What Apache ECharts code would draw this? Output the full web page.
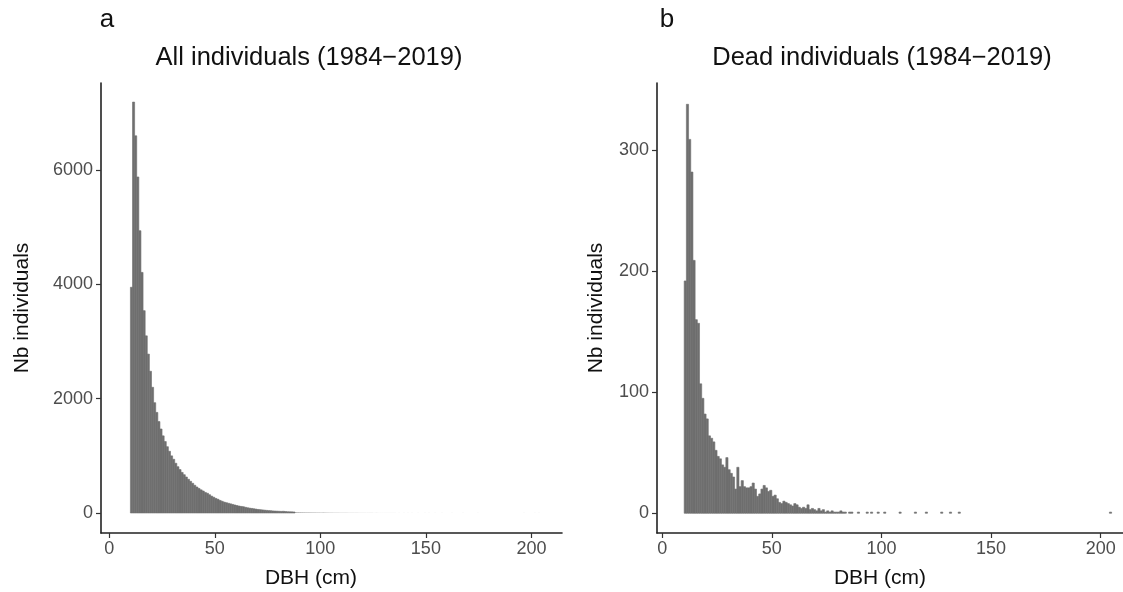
<!DOCTYPE html>
<html>
<head>
<meta charset="utf-8">
<script src="https://cdn.jsdelivr.net/npm/echarts@6.0.0/dist/echarts.min.js"></script>
<style>
  html, body { margin: 0; padding: 0; background: #fff; }
  #chart { width: 1123px; height: 592px; }
</style>
</head>
<body>
<div id="chart"></div>
<script>
// histogram counts, 1 cm DBH bins, first bin starts at 10 cm
var allStart = 10;
var allCounts = [
  3950, 7190, 6600, 5880, 4940, 4210, 3540, 3100, 2780, 2480,
  2200, 1930, 1760, 1600, 1470, 1350, 1250, 1160, 1080, 1000,
  940, 870, 810, 760, 710, 670, 630, 590, 555, 520,
  485, 455, 430, 405, 385, 360, 345, 320, 295, 275,
  255, 240, 220, 205, 190, 180, 170, 160, 150, 140,
  130, 122, 115, 110, 100, 92, 85, 80, 74, 68,
  62, 58, 54, 50, 46, 42, 40, 36, 34, 32,
  30, 28, 30, 26, 22, 21, 20, 18, 17, 16,
  15, 14, 13, 12, 12, 11, 10, 10, 9, 9,
  8, 10, 8, 7, 6, 6, 5, 5, 5, 4,
  4, 4, 4, 3, 3, 3, 3, 3, 2, 2,
  2, 2, 2, 2, 2, 1, 2, 1, 1, 1,
  1, 1, 1, 1, 1, 1, 0, 1, 0, 1,
  0, 1, 0, 1, 0, 0, 1, 0, 0, 1,
  0, 1, 0, 0, 1, 0, 0, 1, 0, 0,
  0, 0, 1, 0, 0, 0, 0, 1, 0, 0,
  0, 0, 0, 0, 1, 0, 0, 0, 0, 0,
  0, 0, 0, 0, 0, 0, 0, 0, 0, 0,
  0, 0, 0, 0, 0, 0, 1, 0, 0, 0,
  0, 1, 0, 1, 0
];

var deadStart = 10;
var deadCounts = [
  192, 338, 309, 282, 209, 160, 157, 107, 95, 82,
  78, 64, 62, 59, 52, 47, 45, 40, 38, 46,
  36, 33, 30, 20, 38, 22, 27, 22, 21, 21,
  22, 25, 20, 14, 16, 20, 23, 21, 18, 19,
  14, 15, 12, 9, 8, 10, 9, 8, 7, 6,
  8, 7, 5, 4, 5, 4, 7, 3, 4, 3,
  2, 4, 2, 3, 1, 2, 1, 2, 1, 1,
  1, 2, 1, 1, 0, 1
];
// scattered single trees in the tail
var deadTailBins = [86, 89, 93, 95, 98, 101, 108, 115, 120, 127, 131, 135, 204];
var deadTailCounts = [1, 1, 1, 1, 1, 1, 1, 1, 1, 1, 1, 1, 1];

var xTicks = [0, 50, 100, 150, 200];
var allYTicks = [0, 2000, 4000, 6000];
var deadYTicks = [0, 100, 200, 300];

function toBins(start, counts) {
  var out = [];
  for (var i = 0; i < counts.length; i++) {
    out.push([start + i, start + i + 1, counts[i]]);
  }
  return out;
}

var allData = toBins(allStart, allCounts);
var deadData = toBins(deadStart, deadCounts);
for (var k = 0; k < deadTailBins.length; k++) {
  deadData.push([deadTailBins[k], deadTailBins[k] + 1, deadTailCounts[k]]);
}

function renderBar(params, api) {
  var n = api.value(2);
  if (!n) return null;
  var topLeft = api.coord([api.value(0), n]);
  var botRight = api.coord([api.value(1), 0]);
  var h = botRight[1] - topLeft[1];
  // thin outline closes the hairline gaps between neighbouring bins
  var extra = h > 1 ? { stroke: '#6f6f6f', lineWidth: 0.6 } : { opacity: 0.5 };
  return {
    type: 'rect',
    shape: {
      x: topLeft[0],
      y: topLeft[1],
      width: botRight[0] - topLeft[0],
      height: h
    },
    style: api.style(extra)
  };
}

var FONT = 'Liberation Sans, Arial, Helvetica, sans-serif';

function xAxisFor(gridIndex, min, max) {
  return {
    type: 'value', gridIndex: gridIndex, min: min, max: max,
    axisLine: { onZero: false, lineStyle: { color: '#222', width: 1.6 } },
    axisTick: { show: true, length: 5, customValues: xTicks, lineStyle: { color: '#333', width: 1.2 } },
    axisLabel: { customValues: xTicks, color: '#4d4d4d', fontSize: 18, fontFamily: FONT, margin: 7 },
    splitLine: { show: false }
  };
}

function yAxisFor(gridIndex, min, max, ticks) {
  return {
    type: 'value', gridIndex: gridIndex, min: min, max: max,
    name: 'Nb individuals', nameLocation: 'middle', nameGap: ticks[3] > 1000 ? 68 : 50,
    nameTextStyle: { color: '#111', fontSize: 21, fontFamily: FONT },
    axisLine: { onZero: false, lineStyle: { color: '#222', width: 1.6 } },
    axisTick: { show: true, length: 5, customValues: ticks, lineStyle: { color: '#333', width: 1.2 } },
    axisLabel: {
      customValues: ticks, color: '#4d4d4d', fontSize: 18, fontFamily: FONT, margin: 8,
      formatter: function (v) { return String(v); }
    },
    splitLine: { show: false }
  };
}

var myChart = echarts.init(document.getElementById('chart'), null, { renderer: 'canvas' });

var option = {
  animation: false,
  backgroundColor: '#fff',
  grid: [
    { left: 101, top: 83, width: 461, height: 450 },
    { left: 657, top: 83, right: 0, height: 450 }
  ],
  xAxis: [
    xAxisFor(0, -3.93, 214.5),
    xAxisFor(1, -2.4, 210.2)
  ],
  yAxis: [
    yAxisFor(0, -350, 7524, allYTicks),
    yAxisFor(1, -16.3, 355.6, deadYTicks)
  ],
  graphic: [
    { type: 'text', x: 107, y: 20, style: { text: 'a', font: '26px ' + FONT, fill: '#111', align: 'center', verticalAlign: 'middle' } },
    { type: 'text', x: 667, y: 20, style: { text: 'b', font: '26px ' + FONT, fill: '#111', align: 'center', verticalAlign: 'middle' } },
    { type: 'text', x: 309, y: 58, style: { text: 'All individuals (1984\u22122019)', font: '25.5px ' + FONT, fill: '#111', align: 'center', verticalAlign: 'middle' } },
    { type: 'text', x: 882, y: 58, style: { text: 'Dead individuals (1984\u22122019)', font: '25.5px ' + FONT, fill: '#111', align: 'center', verticalAlign: 'middle' } },
    { type: 'text', x: 311, y: 578, style: { text: 'DBH (cm)', font: '21px ' + FONT, fill: '#111', align: 'center', verticalAlign: 'middle' } },
    { type: 'text', x: 880, y: 578, style: { text: 'DBH (cm)', font: '21px ' + FONT, fill: '#111', align: 'center', verticalAlign: 'middle' } }
  ],
  series: [
    {
      type: 'custom', xAxisIndex: 0, yAxisIndex: 0,
      renderItem: renderBar,
      itemStyle: { color: '#6f6f6f' },
      encode: { x: [0, 1], y: 2 },
      data: allData
    },
    {
      type: 'custom', xAxisIndex: 1, yAxisIndex: 1,
      renderItem: renderBar,
      itemStyle: { color: '#6f6f6f' },
      encode: { x: [0, 1], y: 2 },
      data: deadData
    }
  ]
};

myChart.setOption(option);
</script>
</body>
</html>
